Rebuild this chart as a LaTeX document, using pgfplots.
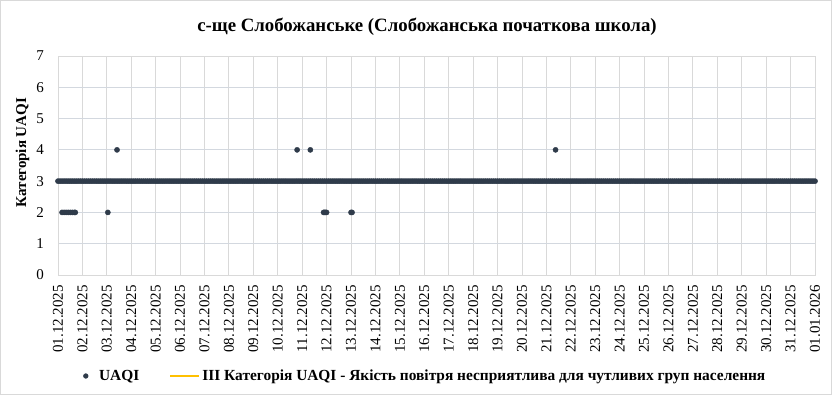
\documentclass[border=0pt]{standalone}
\usepackage{pgfplots}
\pgfplotsset{compat=1.18}
\usepackage{fontspec}
\setmainfont{Liberation Serif}
\definecolor{dotc}{HTML}{2F3B4A}
\definecolor{gridc}{HTML}{D9D9D9}
\definecolor{hgridc}{HTML}{D3D8DF}
\definecolor{yel}{HTML}{FFC000}
\begin{document}
\begin{tikzpicture}[x=1pt,y=1pt]
\useasboundingbox (0,0) rectangle (832,395);
\fill[white] (0,0) rectangle (832,395);
\draw[gridc, line width=0.8pt] (0.5,0.5) rectangle (831.5,394.5);
\begin{axis}[
  at={(58pt,120pt)}, anchor=south west,
  scale only axis, width=757pt, height=219pt,
  xmin=0, xmax=744, ymin=0, ymax=7,
  xtick={0,24,48,72,96,120,144,168,192,216,240,264,288,312,336,360,384,408,432,456,480,504,528,552,576,600,624,648,672,696,720,744},
  xticklabels={01.12.2025,02.12.2025,03.12.2025,04.12.2025,05.12.2025,06.12.2025,07.12.2025,08.12.2025,09.12.2025,10.12.2025,11.12.2025,12.12.2025,13.12.2025,14.12.2025,15.12.2025,16.12.2025,17.12.2025,18.12.2025,19.12.2025,20.12.2025,21.12.2025,22.12.2025,23.12.2025,24.12.2025,25.12.2025,26.12.2025,27.12.2025,28.12.2025,29.12.2025,30.12.2025,31.12.2025,01.01.2026},
  ytick={0,1,2,3,4,5,6,7},
  /pgf/number format/assume math mode=true,
  tick label style={font=\fontsize{15}{16}\selectfont, text=black},
  xticklabel style={rotate=90, anchor=east, inner sep=0pt},
  yticklabel style={anchor=east, inner sep=0pt},
  xticklabel shift=10pt,
  yticklabel shift=14pt,
  major tick length=0pt,
  xmajorgrids, ymajorgrids,
  x grid style={gridc, line width=0.9pt},
  y grid style={hgridc, line width=0.9pt},
  axis line style={gridc, line width=0.9pt},
  clip=false,
  legend columns=2,
  legend style={draw=none, fill=none, at={(rel axis cs:0.4835,0)}, anchor=center, yshift=-101pt,
    font=\fontsize{15.4}{16}\selectfont\bfseries,
    nodes={inner sep=0pt},
    /tikz/every even column/.append style={column sep=30pt},
    inner sep=0pt},
]
\addplot[yel, line width=2pt, forget plot] coordinates {(0,3) (744,3)};
\addplot[only marks, mark=*, mark size=2.6pt, draw=dotc, fill=dotc, color=dotc,
  legend image code/.code={\path (0pt,-4pt) (16pt,4pt); \fill[dotc] (3pt,0) circle (2.4pt);}]
coordinates {
(0,3)(2,3)(4,3)(6,3)(8,3)(10,3)(12,3)(14,3)(16,3)(18,3)(20,3)(22,3)
(24,3)(26,3)(28,3)(30,3)(32,3)(34,3)(36,3)(38,3)(40,3)(42,3)(44,3)(46,3)
(48,3)(50,3)(52,3)(54,3)(56,3)(58,3)(60,3)(62,3)(64,3)(66,3)(68,3)(70,3)
(72,3)(74,3)(76,3)(78,3)(80,3)(82,3)(84,3)(86,3)(88,3)(90,3)(92,3)(94,3)
(96,3)(98,3)(100,3)(102,3)(104,3)(106,3)(108,3)(110,3)(112,3)(114,3)(116,3)(118,3)
(120,3)(122,3)(124,3)(126,3)(128,3)(130,3)(132,3)(134,3)(136,3)(138,3)(140,3)(142,3)
(144,3)(146,3)(148,3)(150,3)(152,3)(154,3)(156,3)(158,3)(160,3)(162,3)(164,3)(166,3)
(168,3)(170,3)(172,3)(174,3)(176,3)(178,3)(180,3)(182,3)(184,3)(186,3)(188,3)(190,3)
(192,3)(194,3)(196,3)(198,3)(200,3)(202,3)(204,3)(206,3)(208,3)(210,3)(212,3)(214,3)
(216,3)(218,3)(220,3)(222,3)(224,3)(226,3)(228,3)(230,3)(232,3)(234,3)(236,3)(238,3)
(240,3)(242,3)(244,3)(246,3)(248,3)(250,3)(252,3)(254,3)(256,3)(258,3)(260,3)(262,3)
(264,3)(266,3)(268,3)(270,3)(272,3)(274,3)(276,3)(278,3)(280,3)(282,3)(284,3)(286,3)
(288,3)(290,3)(292,3)(294,3)(296,3)(298,3)(300,3)(302,3)(304,3)(306,3)(308,3)(310,3)
(312,3)(314,3)(316,3)(318,3)(320,3)(322,3)(324,3)(326,3)(328,3)(330,3)(332,3)(334,3)
(336,3)(338,3)(340,3)(342,3)(344,3)(346,3)(348,3)(350,3)(352,3)(354,3)(356,3)(358,3)
(360,3)(362,3)(364,3)(366,3)(368,3)(370,3)(372,3)(374,3)(376,3)(378,3)(380,3)(382,3)
(384,3)(386,3)(388,3)(390,3)(392,3)(394,3)(396,3)(398,3)(400,3)(402,3)(404,3)(406,3)
(408,3)(410,3)(412,3)(414,3)(416,3)(418,3)(420,3)(422,3)(424,3)(426,3)(428,3)(430,3)
(432,3)(434,3)(436,3)(438,3)(440,3)(442,3)(444,3)(446,3)(448,3)(450,3)(452,3)(454,3)
(456,3)(458,3)(460,3)(462,3)(464,3)(466,3)(468,3)(470,3)(472,3)(474,3)(476,3)(478,3)
(480,3)(482,3)(484,3)(486,3)(488,3)(490,3)(492,3)(494,3)(496,3)(498,3)(500,3)(502,3)
(504,3)(506,3)(508,3)(510,3)(512,3)(514,3)(516,3)(518,3)(520,3)(522,3)(524,3)(526,3)
(528,3)(530,3)(532,3)(534,3)(536,3)(538,3)(540,3)(542,3)(544,3)(546,3)(548,3)(550,3)
(552,3)(554,3)(556,3)(558,3)(560,3)(562,3)(564,3)(566,3)(568,3)(570,3)(572,3)(574,3)
(576,3)(578,3)(580,3)(582,3)(584,3)(586,3)(588,3)(590,3)(592,3)(594,3)(596,3)(598,3)
(600,3)(602,3)(604,3)(606,3)(608,3)(610,3)(612,3)(614,3)(616,3)(618,3)(620,3)(622,3)
(624,3)(626,3)(628,3)(630,3)(632,3)(634,3)(636,3)(638,3)(640,3)(642,3)(644,3)(646,3)
(648,3)(650,3)(652,3)(654,3)(656,3)(658,3)(660,3)(662,3)(664,3)(666,3)(668,3)(670,3)
(672,3)(674,3)(676,3)(678,3)(680,3)(682,3)(684,3)(686,3)(688,3)(690,3)(692,3)(694,3)
(696,3)(698,3)(700,3)(702,3)(704,3)(706,3)(708,3)(710,3)(712,3)(714,3)(716,3)(718,3)
(720,3)(722,3)(724,3)(726,3)(728,3)(730,3)(732,3)(734,3)(736,3)(738,3)(740,3)(742,3)
(744,3)
(4,2)(6,2)(8,2)(10,2)(12,2)(14,2)(16,2)(17,2)
(49,2)(58,4)(235,4)(248,4)
(261,2)(262,2)(263,2)(264,2)
(288,2)(289,2)
(489,4)
};
\addlegendentry{UAQI}
\addlegendimage{yel, line width=2pt, legend image code/.code={\path (0pt,-4pt) (31pt,4pt); \draw[yel, line width=2.4pt] (0,0) -- (29pt,0);}}
\addlegendentry{III Категорія UAQI - Якість повітря несприятлива для чутливих груп населення}
\end{axis}
\node[font=\fontsize{18.8}{20}\selectfont\bfseries] at (427,368) {с-ще Слобожанське (Слобожанська початкова школа)};
\node[font=\fontsize{15}{16}\selectfont\bfseries, rotate=90] at (22.5,242.5) {Категорія UAQI};
\end{tikzpicture}
\end{document}
